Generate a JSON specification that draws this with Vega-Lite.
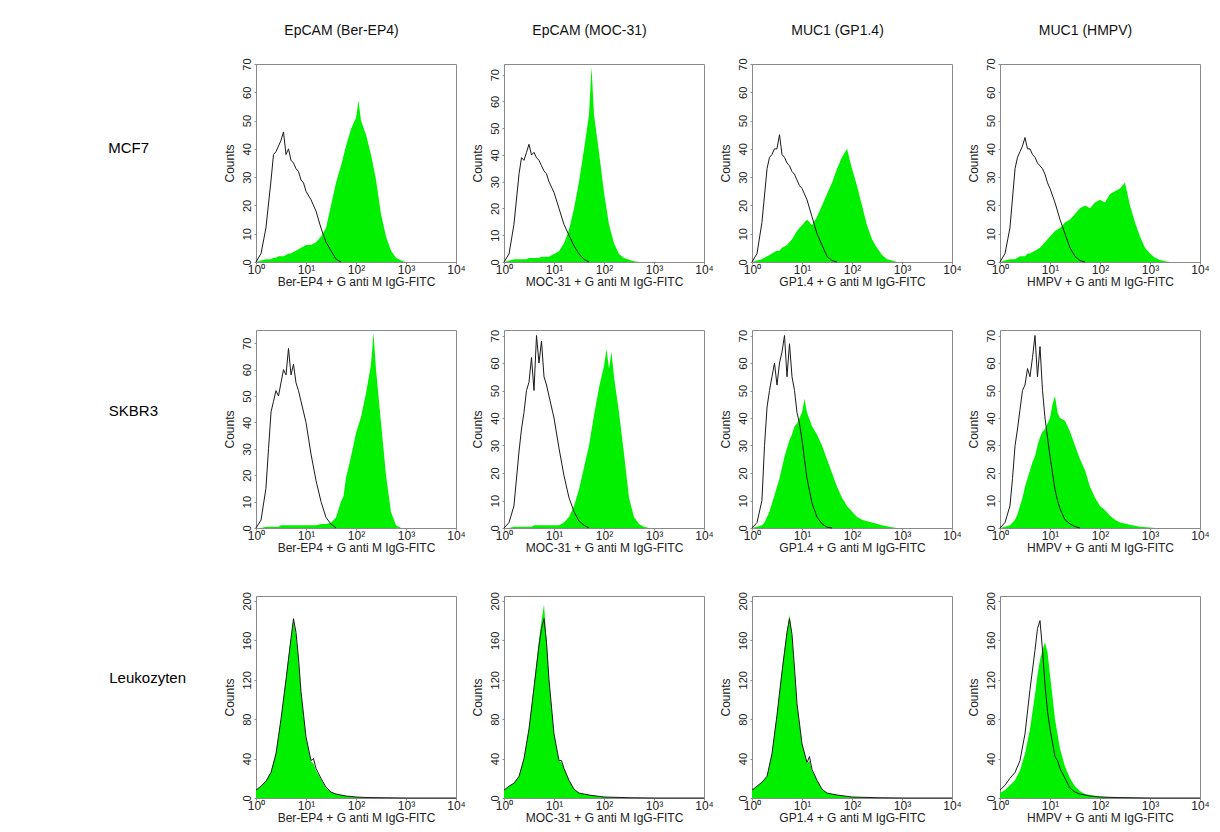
{
"$schema":"https://vega.github.io/schema/vega-lite/v6.json",
"background":"white",
"padding":{"left":107,"top":22,"right":5,"bottom":5},
"datasets":{"h":[
{"p":"11","x":1,"g":0,"k":0},{"p":"11","x":1.26,"g":0.5,"k":3},{"p":"11","x":1.58,"g":1,"k":12},{"p":"11","x":2,"g":1,"k":29},{"p":"11","x":2.24,"g":1.5,"k":38},{"p":"11","x":2.51,"g":1.5,"k":39},{"p":"11","x":2.82,"g":2,"k":41},{"p":"11","x":3.16,"g":2,"k":43},{"p":"11","x":3.55,"g":2,"k":46},{"p":"11","x":3.98,"g":2.5,"k":38},{"p":"11","x":4.47,"g":3,"k":40},{"p":"11","x":5.01,"g":3,"k":36},{"p":"11","x":5.62,"g":3.5,"k":35},{"p":"11","x":6.31,"g":4,"k":33},{"p":"11","x":7.08,"g":4.5,"k":32},{"p":"11","x":7.94,"g":5,"k":29},{"p":"11","x":8.91,"g":5.5,"k":28},{"p":"11","x":10,"g":6,"k":25},{"p":"11","x":12.59,"g":6,"k":22},{"p":"11","x":15.85,"g":7,"k":18},{"p":"11","x":19.95,"g":9,"k":12},{"p":"11","x":25.12,"g":12,"k":7},{"p":"11","x":31.62,"g":20,"k":4},{"p":"11","x":39.81,"g":28,"k":1},{"p":"11","x":50.12,"g":34,"k":0},{"p":"11","x":63.1,"g":41},{"p":"11","x":79.43,"g":47},{"p":"11","x":100,"g":51},{"p":"11","x":112.2,"g":57},{"p":"11","x":125.9,"g":50},{"p":"11","x":158.5,"g":45},{"p":"11","x":199.5,"g":38},{"p":"11","x":251.2,"g":29},{"p":"11","x":316.2,"g":17},{"p":"11","x":398.1,"g":9},{"p":"11","x":501.2,"g":4},{"p":"11","x":631,"g":1.5},{"p":"11","x":794.3,"g":0.5},{"p":"11","x":1000,"g":0},{"p":"11","x":10000,"g":0},
{"p":"12","x":1,"g":0,"k":0},{"p":"12","x":1.26,"g":0.5,"k":3},{"p":"12","x":1.58,"g":1,"k":14},{"p":"12","x":2,"g":1,"k":33},{"p":"12","x":2.24,"g":1,"k":39},{"p":"12","x":2.51,"g":1,"k":38},{"p":"12","x":2.82,"g":1,"k":41},{"p":"12","x":3.16,"g":1.5,"k":44},{"p":"12","x":3.55,"g":1.5,"k":40},{"p":"12","x":3.98,"g":1.5,"k":41},{"p":"12","x":4.47,"g":1.5,"k":39},{"p":"12","x":5.01,"g":1.5,"k":38},{"p":"12","x":5.62,"g":2,"k":36},{"p":"12","x":6.31,"g":2,"k":34},{"p":"12","x":7.08,"g":2,"k":33},{"p":"12","x":7.94,"g":2,"k":30},{"p":"12","x":8.91,"g":2.5,"k":28},{"p":"12","x":10,"g":3,"k":26},{"p":"12","x":12.59,"g":4,"k":20},{"p":"12","x":15.85,"g":7,"k":14},{"p":"12","x":19.95,"g":12,"k":10},{"p":"12","x":25.12,"g":20,"k":6},{"p":"12","x":31.62,"g":30,"k":3},{"p":"12","x":39.81,"g":42,"k":1},{"p":"12","x":50.12,"g":55,"k":0},{"p":"12","x":56.23,"g":73},{"p":"12","x":63.1,"g":55},{"p":"12","x":79.43,"g":41},{"p":"12","x":100,"g":26},{"p":"12","x":125.9,"g":14},{"p":"12","x":158.5,"g":7},{"p":"12","x":199.5,"g":3},{"p":"12","x":251.2,"g":1.5},{"p":"12","x":316.2,"g":0.8},{"p":"12","x":398.1,"g":0.3},{"p":"12","x":501.2,"g":0},{"p":"12","x":10000,"g":0},
{"p":"13","x":1,"g":0,"k":0},{"p":"13","x":1.26,"g":0.5,"k":3},{"p":"13","x":1.58,"g":1,"k":14},{"p":"13","x":2,"g":2,"k":33},{"p":"13","x":2.24,"g":2.5,"k":37},{"p":"13","x":2.51,"g":3,"k":38},{"p":"13","x":2.82,"g":3.5,"k":40},{"p":"13","x":3.16,"g":4,"k":40},{"p":"13","x":3.55,"g":4,"k":45},{"p":"13","x":3.98,"g":5,"k":38},{"p":"13","x":4.47,"g":5.5,"k":37},{"p":"13","x":5.01,"g":6,"k":35},{"p":"13","x":5.62,"g":7,"k":34},{"p":"13","x":6.31,"g":8,"k":32},{"p":"13","x":7.08,"g":9.5,"k":31},{"p":"13","x":7.94,"g":11,"k":29},{"p":"13","x":8.91,"g":12,"k":27},{"p":"13","x":10,"g":13,"k":26},{"p":"13","x":12.59,"g":15,"k":22},{"p":"13","x":15.85,"g":13,"k":16},{"p":"13","x":19.95,"g":16,"k":10},{"p":"13","x":25.12,"g":20,"k":6},{"p":"13","x":31.62,"g":24,"k":2},{"p":"13","x":39.81,"g":28,"k":0.5},{"p":"13","x":50.12,"g":33,"k":0},{"p":"13","x":63.1,"g":37},{"p":"13","x":79.43,"g":40},{"p":"13","x":100,"g":33},{"p":"13","x":125.9,"g":27},{"p":"13","x":158.5,"g":20},{"p":"13","x":199.5,"g":13},{"p":"13","x":251.2,"g":8},{"p":"13","x":316.2,"g":5},{"p":"13","x":398.1,"g":2.5},{"p":"13","x":501.2,"g":1},{"p":"13","x":631,"g":0.5},{"p":"13","x":794.3,"g":0},{"p":"13","x":10000,"g":0},
{"p":"14","x":1,"g":0,"k":0},{"p":"14","x":1.26,"g":0.5,"k":3},{"p":"14","x":1.58,"g":1,"k":12},{"p":"14","x":2,"g":1,"k":33},{"p":"14","x":2.24,"g":1.5,"k":37},{"p":"14","x":2.51,"g":2,"k":39},{"p":"14","x":2.82,"g":2,"k":41},{"p":"14","x":3.16,"g":2,"k":44},{"p":"14","x":3.55,"g":3,"k":40},{"p":"14","x":3.98,"g":3,"k":40},{"p":"14","x":4.47,"g":3.5,"k":38},{"p":"14","x":5.01,"g":4,"k":37},{"p":"14","x":5.62,"g":4.5,"k":35},{"p":"14","x":6.31,"g":5,"k":34},{"p":"14","x":7.08,"g":6,"k":33},{"p":"14","x":7.94,"g":7,"k":31},{"p":"14","x":8.91,"g":8,"k":28},{"p":"14","x":10,"g":9,"k":26},{"p":"14","x":12.59,"g":11,"k":21},{"p":"14","x":15.85,"g":12,"k":15},{"p":"14","x":19.95,"g":14,"k":10},{"p":"14","x":25.12,"g":15,"k":5},{"p":"14","x":31.62,"g":17,"k":2},{"p":"14","x":39.81,"g":19,"k":0.5},{"p":"14","x":50.12,"g":20,"k":0},{"p":"14","x":63.1,"g":19},{"p":"14","x":79.43,"g":21},{"p":"14","x":100,"g":22},{"p":"14","x":125.9,"g":21},{"p":"14","x":158.5,"g":24},{"p":"14","x":199.5,"g":25},{"p":"14","x":251.2,"g":26},{"p":"14","x":316.2,"g":28},{"p":"14","x":398.1,"g":20},{"p":"14","x":501.2,"g":14},{"p":"14","x":631,"g":9},{"p":"14","x":794.3,"g":5},{"p":"14","x":1000,"g":3},{"p":"14","x":1259,"g":1.5},{"p":"14","x":1585,"g":0.7},{"p":"14","x":1995,"g":0.3},{"p":"14","x":2512,"g":0},{"p":"14","x":10000,"g":0},
{"p":"21","x":1,"g":0,"k":0},{"p":"21","x":1.26,"g":0,"k":3},{"p":"21","x":1.58,"g":0.5,"k":15},{"p":"21","x":1.78,"g":0.5,"k":30},{"p":"21","x":2,"g":0.5,"k":44},{"p":"21","x":2.24,"g":0.5,"k":48},{"p":"21","x":2.51,"g":0.5,"k":52},{"p":"21","x":2.82,"g":0.5,"k":50},{"p":"21","x":3.16,"g":1,"k":55},{"p":"21","x":3.55,"g":1,"k":60},{"p":"21","x":3.98,"g":1,"k":58},{"p":"21","x":4.47,"g":1,"k":68},{"p":"21","x":5.01,"g":1,"k":58},{"p":"21","x":5.62,"g":1,"k":62},{"p":"21","x":6.31,"g":1,"k":55},{"p":"21","x":7.08,"g":1,"k":52},{"p":"21","x":7.94,"g":1,"k":48},{"p":"21","x":10,"g":1,"k":40},{"p":"21","x":12.59,"g":1,"k":28},{"p":"21","x":15.85,"g":1,"k":18},{"p":"21","x":19.95,"g":1.5,"k":10},{"p":"21","x":25.12,"g":1.5,"k":4},{"p":"21","x":31.62,"g":2,"k":1.5},{"p":"21","x":39.81,"g":4,"k":0},{"p":"21","x":50.12,"g":10},{"p":"21","x":56.23,"g":12},{"p":"21","x":63.1,"g":19},{"p":"21","x":79.43,"g":27},{"p":"21","x":100,"g":36},{"p":"21","x":125.9,"g":42},{"p":"21","x":158.5,"g":51},{"p":"21","x":199.5,"g":62},{"p":"21","x":223.9,"g":74},{"p":"21","x":251.2,"g":60},{"p":"21","x":316.2,"g":40},{"p":"21","x":398.1,"g":20},{"p":"21","x":501.2,"g":6},{"p":"21","x":631,"g":1},{"p":"21","x":794.3,"g":0},{"p":"21","x":10000,"g":0},
{"p":"22","x":1,"g":0,"k":0},{"p":"22","x":1.26,"g":0,"k":2},{"p":"22","x":1.58,"g":0.5,"k":8},{"p":"22","x":2,"g":0.5,"k":28},{"p":"22","x":2.24,"g":0.5,"k":36},{"p":"22","x":2.51,"g":0.5,"k":42},{"p":"22","x":2.82,"g":0.5,"k":50},{"p":"22","x":3.16,"g":0.5,"k":53},{"p":"22","x":3.55,"g":0.5,"k":62},{"p":"22","x":3.98,"g":1,"k":50},{"p":"22","x":4.47,"g":1,"k":70},{"p":"22","x":5.01,"g":1,"k":60},{"p":"22","x":5.62,"g":1,"k":68},{"p":"22","x":6.31,"g":1,"k":55},{"p":"22","x":7.08,"g":1,"k":52},{"p":"22","x":7.94,"g":1,"k":48},{"p":"22","x":10,"g":1,"k":40},{"p":"22","x":12.59,"g":1,"k":29},{"p":"22","x":15.85,"g":2,"k":19},{"p":"22","x":19.95,"g":4,"k":11},{"p":"22","x":25.12,"g":8,"k":6},{"p":"22","x":31.62,"g":14,"k":2.5},{"p":"22","x":39.81,"g":22,"k":1},{"p":"22","x":50.12,"g":30,"k":0},{"p":"22","x":63.1,"g":41},{"p":"22","x":79.43,"g":51},{"p":"22","x":100,"g":59},{"p":"22","x":112.2,"g":65},{"p":"22","x":125.9,"g":58},{"p":"22","x":141.3,"g":64},{"p":"22","x":158.5,"g":55},{"p":"22","x":199.5,"g":42},{"p":"22","x":251.2,"g":27},{"p":"22","x":316.2,"g":11},{"p":"22","x":398.1,"g":4},{"p":"22","x":501.2,"g":1.5},{"p":"22","x":631,"g":0.5},{"p":"22","x":794.3,"g":0},{"p":"22","x":10000,"g":0},
{"p":"23","x":1,"g":0,"k":0},{"p":"23","x":1.26,"g":0.5,"k":2},{"p":"23","x":1.58,"g":1,"k":10},{"p":"23","x":1.78,"g":2,"k":30},{"p":"23","x":2,"g":4,"k":44},{"p":"23","x":2.24,"g":6,"k":50},{"p":"23","x":2.51,"g":9,"k":55},{"p":"23","x":2.82,"g":12,"k":60},{"p":"23","x":3.16,"g":15,"k":52},{"p":"23","x":3.55,"g":18,"k":60},{"p":"23","x":3.98,"g":22,"k":64},{"p":"23","x":4.47,"g":26,"k":70},{"p":"23","x":5.01,"g":29,"k":55},{"p":"23","x":5.62,"g":32,"k":67},{"p":"23","x":6.31,"g":34,"k":55},{"p":"23","x":7.08,"g":37,"k":50},{"p":"23","x":7.94,"g":38,"k":42},{"p":"23","x":8.91,"g":40,"k":38},{"p":"23","x":10,"g":42,"k":32},{"p":"23","x":11.22,"g":47,"k":25},{"p":"23","x":12.59,"g":42,"k":18},{"p":"23","x":15.85,"g":37,"k":9},{"p":"23","x":19.95,"g":34,"k":4},{"p":"23","x":25.12,"g":30,"k":1.5},{"p":"23","x":31.62,"g":25,"k":0.3},{"p":"23","x":39.81,"g":20,"k":0},{"p":"23","x":50.12,"g":15},{"p":"23","x":63.1,"g":11},{"p":"23","x":79.43,"g":8},{"p":"23","x":100,"g":6},{"p":"23","x":125.9,"g":4},{"p":"23","x":158.5,"g":3},{"p":"23","x":199.5,"g":2.5},{"p":"23","x":251.2,"g":2},{"p":"23","x":398.1,"g":1},{"p":"23","x":631,"g":0.3},{"p":"23","x":794.3,"g":0},{"p":"23","x":10000,"g":0},
{"p":"24","x":1,"g":0,"k":0},{"p":"24","x":1.26,"g":0.5,"k":2},{"p":"24","x":1.58,"g":1,"k":8},{"p":"24","x":1.78,"g":2,"k":18},{"p":"24","x":2,"g":3,"k":30},{"p":"24","x":2.24,"g":5,"k":36},{"p":"24","x":2.51,"g":8,"k":43},{"p":"24","x":2.82,"g":11,"k":50},{"p":"24","x":3.16,"g":15,"k":52},{"p":"24","x":3.55,"g":18,"k":58},{"p":"24","x":3.98,"g":21,"k":55},{"p":"24","x":4.47,"g":24,"k":62},{"p":"24","x":5.01,"g":26,"k":70},{"p":"24","x":5.62,"g":30,"k":55},{"p":"24","x":6.31,"g":33,"k":66},{"p":"24","x":7.08,"g":35,"k":50},{"p":"24","x":7.94,"g":36,"k":40},{"p":"24","x":10,"g":40,"k":26},{"p":"24","x":11.22,"g":45,"k":20},{"p":"24","x":12.59,"g":48,"k":14},{"p":"24","x":14.13,"g":42,"k":10},{"p":"24","x":15.85,"g":40,"k":7},{"p":"24","x":19.95,"g":39,"k":3},{"p":"24","x":25.12,"g":35,"k":1.5},{"p":"24","x":31.62,"g":30,"k":0.5},{"p":"24","x":39.81,"g":25,"k":0},{"p":"24","x":50.12,"g":21},{"p":"24","x":63.1,"g":15},{"p":"24","x":79.43,"g":11},{"p":"24","x":100,"g":8},{"p":"24","x":125.9,"g":6.5},{"p":"24","x":158.5,"g":4.5},{"p":"24","x":199.5,"g":3},{"p":"24","x":251.2,"g":2},{"p":"24","x":398.1,"g":1.2},{"p":"24","x":631,"g":0.5},{"p":"24","x":1000,"g":0.2},{"p":"24","x":1259,"g":0},{"p":"24","x":10000,"g":0},
{"p":"31","x":1,"g":8,"k":8},{"p":"31","x":1.26,"g":12,"k":12},{"p":"31","x":1.58,"g":17,"k":17},{"p":"31","x":2,"g":27,"k":26},{"p":"31","x":2.51,"g":46,"k":45},{"p":"31","x":3.16,"g":80,"k":80},{"p":"31","x":3.98,"g":122,"k":120},{"p":"31","x":5.01,"g":163,"k":162},{"p":"31","x":5.62,"g":182,"k":182},{"p":"31","x":6.31,"g":165,"k":168},{"p":"31","x":7.08,"g":140,"k":142},{"p":"31","x":7.94,"g":108,"k":108},{"p":"31","x":10,"g":61,"k":62},{"p":"31","x":12.59,"g":37,"k":38},{"p":"31","x":14.13,"g":35,"k":40},{"p":"31","x":15.85,"g":28,"k":30},{"p":"31","x":19.95,"g":19,"k":20},{"p":"31","x":25.12,"g":10,"k":11},{"p":"31","x":31.62,"g":6,"k":6},{"p":"31","x":39.81,"g":4,"k":4},{"p":"31","x":50.12,"g":3,"k":3},{"p":"31","x":63.1,"g":2,"k":2},{"p":"31","x":100,"g":1,"k":1},{"p":"31","x":158.5,"g":0.5,"k":0.5},{"p":"31","x":316.2,"g":0.3,"k":0.3},{"p":"31","x":1000,"g":0,"k":0},{"p":"31","x":10000,"g":0,"k":0},
{"p":"32","x":1,"g":8,"k":8},{"p":"32","x":1.26,"g":12,"k":12},{"p":"32","x":1.58,"g":15,"k":15},{"p":"32","x":2,"g":22,"k":22},{"p":"32","x":2.51,"g":40,"k":40},{"p":"32","x":3.16,"g":70,"k":70},{"p":"32","x":3.98,"g":115,"k":112},{"p":"32","x":5.01,"g":160,"k":155},{"p":"32","x":5.62,"g":180,"k":172},{"p":"32","x":6.31,"g":196,"k":182},{"p":"32","x":7.08,"g":160,"k":158},{"p":"32","x":7.94,"g":120,"k":120},{"p":"32","x":10,"g":65,"k":65},{"p":"32","x":12.59,"g":38,"k":38},{"p":"32","x":14.13,"g":36,"k":38},{"p":"32","x":15.85,"g":30,"k":30},{"p":"32","x":19.95,"g":18,"k":18},{"p":"32","x":25.12,"g":9,"k":9},{"p":"32","x":31.62,"g":5,"k":5},{"p":"32","x":50.12,"g":3,"k":3},{"p":"32","x":100,"g":1,"k":1},{"p":"32","x":316.2,"g":0.3,"k":0.3},{"p":"32","x":1000,"g":0,"k":0},{"p":"32","x":10000,"g":0,"k":0},
{"p":"33","x":1,"g":8,"k":8},{"p":"33","x":1.26,"g":12,"k":12},{"p":"33","x":1.58,"g":16,"k":16},{"p":"33","x":2,"g":22,"k":22},{"p":"33","x":2.51,"g":45,"k":45},{"p":"33","x":3.16,"g":85,"k":84},{"p":"33","x":3.98,"g":130,"k":128},{"p":"33","x":5.01,"g":170,"k":168},{"p":"33","x":5.62,"g":186,"k":182},{"p":"33","x":6.31,"g":165,"k":166},{"p":"33","x":7.08,"g":130,"k":132},{"p":"33","x":7.94,"g":95,"k":96},{"p":"33","x":10,"g":55,"k":55},{"p":"33","x":12.59,"g":35,"k":36},{"p":"33","x":14.13,"g":38,"k":42},{"p":"33","x":15.85,"g":28,"k":29},{"p":"33","x":19.95,"g":18,"k":18},{"p":"33","x":25.12,"g":9,"k":9},{"p":"33","x":31.62,"g":5,"k":5},{"p":"33","x":50.12,"g":3,"k":3},{"p":"33","x":100,"g":1,"k":1},{"p":"33","x":316.2,"g":0.3,"k":0.3},{"p":"33","x":1000,"g":0,"k":0},{"p":"33","x":10000,"g":0,"k":0},
{"p":"34","x":1,"g":5,"k":8},{"p":"34","x":1.26,"g":8,"k":13},{"p":"34","x":1.58,"g":13,"k":20},{"p":"34","x":2,"g":18,"k":26},{"p":"34","x":2.51,"g":28,"k":38},{"p":"34","x":3.16,"g":45,"k":65},{"p":"34","x":3.98,"g":70,"k":110},{"p":"34","x":5.01,"g":105,"k":150},{"p":"34","x":5.62,"g":125,"k":172},{"p":"34","x":6.31,"g":140,"k":180},{"p":"34","x":7.08,"g":150,"k":150},{"p":"34","x":7.94,"g":158,"k":115},{"p":"34","x":8.91,"g":148,"k":88},{"p":"34","x":10,"g":125,"k":70},{"p":"34","x":12.59,"g":80,"k":42},{"p":"34","x":14.13,"g":65,"k":38},{"p":"34","x":15.85,"g":50,"k":30},{"p":"34","x":19.95,"g":32,"k":20},{"p":"34","x":25.12,"g":20,"k":10},{"p":"34","x":31.62,"g":12,"k":6},{"p":"34","x":39.81,"g":7,"k":4},{"p":"34","x":50.12,"g":4,"k":3},{"p":"34","x":63.1,"g":3,"k":2},{"p":"34","x":100,"g":1.5,"k":1},{"p":"34","x":199.5,"g":0.6,"k":0.5},{"p":"34","x":501.2,"g":0.2,"k":0.2},{"p":"34","x":1000,"g":0,"k":0},{"p":"34","x":10000,"g":0,"k":0}
]},
"data":{"name":"h"},
"columns":4,
"spacing":{"row":68,"column":48},
"bounds":"flush",
"concat":[
  {"width":200,"height":198,"title":{"text":"MCF7","orient":"left","frame":"group","angle":0,"align":"left","baseline":"middle","anchor":"middle","offset":74,"fontSize":15,"dy":-15,"color":"#000"},
   "transform":[{"filter":"datum.p=='11'"}],
   "resolve":{"axis":{"x":"independent"}},
   "layer":[{"mark":{"type":"area","color":"#00f000"},"encoding":{"x":{"field":"x","type":"quantitative","scale":{"type":"log","domain":[1,10000]},"axis":{"values":[1,10,100,1000,10000],"labelExpr":"'10'+['⁰','¹','²','³','⁴'][round(log(datum.value)/LN10)]","title":"Ber-EP4 + G anti M IgG-FITC"}},"y":{"field":"g","type":"quantitative","title":"Counts","scale":{"domain":[0,70]},"axis":{"values":[0,10,20,30,40,50,60,70]}}}},
            {"mark":{"type":"line","color":"#1a1a1a","strokeWidth":1},"encoding":{"x":{"field":"x","type":"quantitative","scale":{"type":"log","domain":[1,10000]},"axis":{"orient":"top","title":"EpCAM (Ber-EP4)","labels":false,"ticks":false,"domain":false,"titleFontSize":14,"titleX":85,"titleY":-30,"titleBaseline":"alphabetic","titleAlign":"center","titleColor":"#111"}},"y":{"field":"k","type":"quantitative","title":"Counts","scale":{"domain":[0,70]},"axis":{"values":[0,10,20,30,40,50,60,70]}}}}]},
  {"width":200,"height":198,
   "transform":[{"filter":"datum.p=='12'"}],
   "resolve":{"axis":{"x":"independent"}},
   "layer":[{"mark":{"type":"area","color":"#00f000"},"encoding":{"x":{"field":"x","type":"quantitative","scale":{"type":"log","domain":[1,10000]},"axis":{"values":[1,10,100,1000,10000],"labelExpr":"'10'+['⁰','¹','²','³','⁴'][round(log(datum.value)/LN10)]","title":"MOC-31 + G anti M IgG-FITC"}},"y":{"field":"g","type":"quantitative","title":"Counts","scale":{"domain":[0,74]},"axis":{"values":[0,10,20,30,40,50,60,70]}}}},
            {"mark":{"type":"line","color":"#1a1a1a","strokeWidth":1},"encoding":{"x":{"field":"x","type":"quantitative","scale":{"type":"log","domain":[1,10000]},"axis":{"orient":"top","title":"EpCAM (MOC-31)","labels":false,"ticks":false,"domain":false,"titleFontSize":14,"titleX":85,"titleY":-30,"titleBaseline":"alphabetic","titleAlign":"center","titleColor":"#111"}},"y":{"field":"k","type":"quantitative","title":"Counts","scale":{"domain":[0,74]},"axis":{"values":[0,10,20,30,40,50,60,70]}}}}]},
  {"width":200,"height":198,
   "transform":[{"filter":"datum.p=='13'"}],
   "resolve":{"axis":{"x":"independent"}},
   "layer":[{"mark":{"type":"area","color":"#00f000"},"encoding":{"x":{"field":"x","type":"quantitative","scale":{"type":"log","domain":[1,10000]},"axis":{"values":[1,10,100,1000,10000],"labelExpr":"'10'+['⁰','¹','²','³','⁴'][round(log(datum.value)/LN10)]","title":"GP1.4 + G anti M IgG-FITC"}},"y":{"field":"g","type":"quantitative","title":"Counts","scale":{"domain":[0,70]},"axis":{"values":[0,10,20,30,40,50,60,70]}}}},
            {"mark":{"type":"line","color":"#1a1a1a","strokeWidth":1},"encoding":{"x":{"field":"x","type":"quantitative","scale":{"type":"log","domain":[1,10000]},"axis":{"orient":"top","title":"MUC1 (GP1.4)","labels":false,"ticks":false,"domain":false,"titleFontSize":14,"titleX":85,"titleY":-30,"titleBaseline":"alphabetic","titleAlign":"center","titleColor":"#111"}},"y":{"field":"k","type":"quantitative","title":"Counts","scale":{"domain":[0,70]},"axis":{"values":[0,10,20,30,40,50,60,70]}}}}]},
  {"width":200,"height":198,
   "transform":[{"filter":"datum.p=='14'"}],
   "resolve":{"axis":{"x":"independent"}},
   "layer":[{"mark":{"type":"area","color":"#00f000"},"encoding":{"x":{"field":"x","type":"quantitative","scale":{"type":"log","domain":[1,10000]},"axis":{"values":[1,10,100,1000,10000],"labelExpr":"'10'+['⁰','¹','²','³','⁴'][round(log(datum.value)/LN10)]","title":"HMPV + G anti M IgG-FITC"}},"y":{"field":"g","type":"quantitative","title":"Counts","scale":{"domain":[0,70]},"axis":{"values":[0,10,20,30,40,50,60,70]}}}},
            {"mark":{"type":"line","color":"#1a1a1a","strokeWidth":1},"encoding":{"x":{"field":"x","type":"quantitative","scale":{"type":"log","domain":[1,10000]},"axis":{"orient":"top","title":"MUC1 (HMPV)","labels":false,"ticks":false,"domain":false,"titleFontSize":14,"titleX":85,"titleY":-30,"titleBaseline":"alphabetic","titleAlign":"center","titleColor":"#111"}},"y":{"field":"k","type":"quantitative","title":"Counts","scale":{"domain":[0,70]},"axis":{"values":[0,10,20,30,40,50,60,70]}}}}]},
  {"width":200,"height":198,"title":{"text":"SKBR3","orient":"left","frame":"group","angle":0,"align":"left","baseline":"middle","anchor":"middle","offset":65,"fontSize":15,"dy":-18,"color":"#000"},
   "transform":[{"filter":"datum.p=='21'"}],
   "encoding":{"x":{"field":"x","type":"quantitative","scale":{"type":"log","domain":[1,10000]},"axis":{"values":[1,10,100,1000,10000],"labelExpr":"'10'+['⁰','¹','²','³','⁴'][round(log(datum.value)/LN10)]","title":"Ber-EP4 + G anti M IgG-FITC"}}},
   "layer":[{"mark":{"type":"area","color":"#00f000"},"encoding":{"y":{"field":"g","type":"quantitative","title":"Counts","scale":{"domain":[0,75]},"axis":{"values":[0,10,20,30,40,50,60,70]}}}},
            {"mark":{"type":"line","color":"#1a1a1a","strokeWidth":1},"encoding":{"y":{"field":"k","type":"quantitative","title":"Counts","scale":{"domain":[0,75]},"axis":{"values":[0,10,20,30,40,50,60,70]}}}}]},
  {"width":200,"height":198,
   "transform":[{"filter":"datum.p=='22'"}],
   "encoding":{"x":{"field":"x","type":"quantitative","scale":{"type":"log","domain":[1,10000]},"axis":{"values":[1,10,100,1000,10000],"labelExpr":"'10'+['⁰','¹','²','³','⁴'][round(log(datum.value)/LN10)]","title":"MOC-31 + G anti M IgG-FITC"}}},
   "layer":[{"mark":{"type":"area","color":"#00f000"},"encoding":{"y":{"field":"g","type":"quantitative","title":"Counts","scale":{"domain":[0,72]},"axis":{"values":[0,10,20,30,40,50,60,70]}}}},
            {"mark":{"type":"line","color":"#1a1a1a","strokeWidth":1},"encoding":{"y":{"field":"k","type":"quantitative","title":"Counts","scale":{"domain":[0,72]},"axis":{"values":[0,10,20,30,40,50,60,70]}}}}]},
  {"width":200,"height":198,
   "transform":[{"filter":"datum.p=='23'"}],
   "encoding":{"x":{"field":"x","type":"quantitative","scale":{"type":"log","domain":[1,10000]},"axis":{"values":[1,10,100,1000,10000],"labelExpr":"'10'+['⁰','¹','²','³','⁴'][round(log(datum.value)/LN10)]","title":"GP1.4 + G anti M IgG-FITC"}}},
   "layer":[{"mark":{"type":"area","color":"#00f000"},"encoding":{"y":{"field":"g","type":"quantitative","title":"Counts","scale":{"domain":[0,72]},"axis":{"values":[0,10,20,30,40,50,60,70]}}}},
            {"mark":{"type":"line","color":"#1a1a1a","strokeWidth":1},"encoding":{"y":{"field":"k","type":"quantitative","title":"Counts","scale":{"domain":[0,72]},"axis":{"values":[0,10,20,30,40,50,60,70]}}}}]},
  {"width":200,"height":198,
   "transform":[{"filter":"datum.p=='24'"}],
   "encoding":{"x":{"field":"x","type":"quantitative","scale":{"type":"log","domain":[1,10000]},"axis":{"values":[1,10,100,1000,10000],"labelExpr":"'10'+['⁰','¹','²','³','⁴'][round(log(datum.value)/LN10)]","title":"HMPV + G anti M IgG-FITC"}}},
   "layer":[{"mark":{"type":"area","color":"#00f000"},"encoding":{"y":{"field":"g","type":"quantitative","title":"Counts","scale":{"domain":[0,72]},"axis":{"values":[0,10,20,30,40,50,60,70]}}}},
            {"mark":{"type":"line","color":"#1a1a1a","strokeWidth":1},"encoding":{"y":{"field":"k","type":"quantitative","title":"Counts","scale":{"domain":[0,72]},"axis":{"values":[0,10,20,30,40,50,60,70]}}}}]},
  {"width":200,"height":202,"title":{"text":"Leukozyten","orient":"left","frame":"group","angle":0,"align":"left","baseline":"middle","anchor":"middle","offset":37,"fontSize":15,"dy":-19,"color":"#000"},
   "transform":[{"filter":"datum.p=='31'"}],
   "encoding":{"x":{"field":"x","type":"quantitative","scale":{"type":"log","domain":[1,10000]},"axis":{"values":[1,10,100,1000,10000],"labelExpr":"'10'+['⁰','¹','²','³','⁴'][round(log(datum.value)/LN10)]","title":"Ber-EP4 + G anti M IgG-FITC"}}},
   "layer":[{"mark":{"type":"area","color":"#00f000"},"encoding":{"y":{"field":"g","type":"quantitative","title":"Counts","scale":{"domain":[0,205]},"axis":{"values":[0,40,80,120,160,200]}}}},
            {"mark":{"type":"line","color":"#1a1a1a","strokeWidth":1},"encoding":{"y":{"field":"k","type":"quantitative","title":"Counts","scale":{"domain":[0,205]},"axis":{"values":[0,40,80,120,160,200]}}}}]},
  {"width":200,"height":202,
   "transform":[{"filter":"datum.p=='32'"}],
   "encoding":{"x":{"field":"x","type":"quantitative","scale":{"type":"log","domain":[1,10000]},"axis":{"values":[1,10,100,1000,10000],"labelExpr":"'10'+['⁰','¹','²','³','⁴'][round(log(datum.value)/LN10)]","title":"MOC-31 + G anti M IgG-FITC"}}},
   "layer":[{"mark":{"type":"area","color":"#00f000"},"encoding":{"y":{"field":"g","type":"quantitative","title":"Counts","scale":{"domain":[0,205]},"axis":{"values":[0,40,80,120,160,200]}}}},
            {"mark":{"type":"line","color":"#1a1a1a","strokeWidth":1},"encoding":{"y":{"field":"k","type":"quantitative","title":"Counts","scale":{"domain":[0,205]},"axis":{"values":[0,40,80,120,160,200]}}}}]},
  {"width":200,"height":202,
   "transform":[{"filter":"datum.p=='33'"}],
   "encoding":{"x":{"field":"x","type":"quantitative","scale":{"type":"log","domain":[1,10000]},"axis":{"values":[1,10,100,1000,10000],"labelExpr":"'10'+['⁰','¹','²','³','⁴'][round(log(datum.value)/LN10)]","title":"GP1.4 + G anti M IgG-FITC"}}},
   "layer":[{"mark":{"type":"area","color":"#00f000"},"encoding":{"y":{"field":"g","type":"quantitative","title":"Counts","scale":{"domain":[0,205]},"axis":{"values":[0,40,80,120,160,200]}}}},
            {"mark":{"type":"line","color":"#1a1a1a","strokeWidth":1},"encoding":{"y":{"field":"k","type":"quantitative","title":"Counts","scale":{"domain":[0,205]},"axis":{"values":[0,40,80,120,160,200]}}}}]},
  {"width":200,"height":202,
   "transform":[{"filter":"datum.p=='34'"}],
   "encoding":{"x":{"field":"x","type":"quantitative","scale":{"type":"log","domain":[1,10000]},"axis":{"values":[1,10,100,1000,10000],"labelExpr":"'10'+['⁰','¹','²','³','⁴'][round(log(datum.value)/LN10)]","title":"HMPV + G anti M IgG-FITC"}}},
   "layer":[{"mark":{"type":"area","color":"#00f000"},"encoding":{"y":{"field":"g","type":"quantitative","title":"Counts","scale":{"domain":[0,205]},"axis":{"values":[0,40,80,120,160,200]}}}},
            {"mark":{"type":"line","color":"#1a1a1a","strokeWidth":1},"encoding":{"y":{"field":"k","type":"quantitative","title":"Counts","scale":{"domain":[0,205]},"axis":{"values":[0,40,80,120,160,200]}}}}]}
],
"config":{
 "font":"Liberation Sans",
 "view":{"stroke":"#8a8a8a","strokeWidth":1},
 "axis":{"grid":false,"domainColor":"#8a8a8a","tickColor":"#8a8a8a","tickSize":2,"labelColor":"#222","titleColor":"#222","titleFontWeight":"normal","labelFont":"Liberation Sans","titleFont":"Liberation Sans","labelFontSize":11,"titleFontSize":12},
 "axisX":{"labelFlush":false,"labelFontSize":12,"labelPadding":0,"titlePadding":1},
 "axisY":{"labelAngle":-90,"labelPadding":2,"titlePadding":5},
 "title":{"fontSize":14,"fontWeight":"normal","color":"#111","font":"Liberation Sans"}
}
}
